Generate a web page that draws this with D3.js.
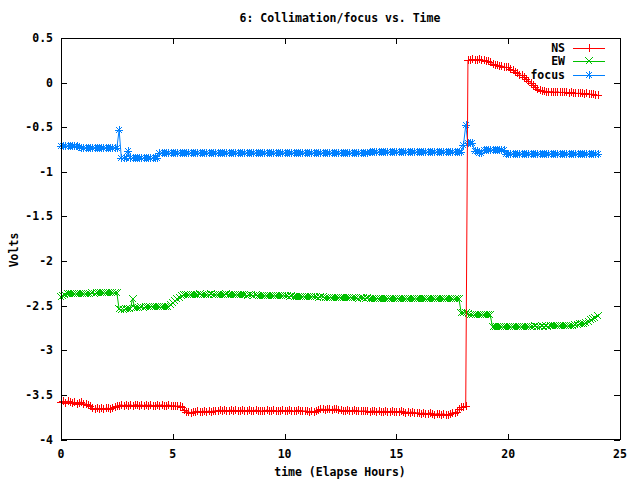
<!DOCTYPE html>
<html>
<head>
<meta charset="utf-8">
<script src="https://cdn.jsdelivr.net/npm/d3@7"></script>
<style>
body { margin: 0; background: #fff; }
svg text { font-family: "DejaVu Sans Mono", monospace; font-size: 11.5px; font-weight: bold; fill: #000; }
</style>
</head>
<body>
<svg id="chart" width="640" height="480"></svg>
<script>
// samples every 0.1 h, starting at 0 h (one row = one hour)
const t0 = 0;
const dt = 0.1;

const ns = [
  -3.58, -3.57, -3.59, -3.57, -3.58, -3.59, -3.58, -3.60, -3.59, -3.58,
  -3.60, -3.60, -3.61, -3.63, -3.65, -3.66, -3.65, -3.66, -3.65, -3.66,
  -3.65, -3.65, -3.66, -3.65, -3.64, -3.62, -3.62, -3.61, -3.62, -3.61,
  -3.62, -3.61, -3.62, -3.61, -3.61, -3.62, -3.61, -3.62, -3.61, -3.62,
  -3.61, -3.62, -3.62, -3.61, -3.62, -3.61, -3.62, -3.62, -3.61, -3.62,
  -3.62, -3.62, -3.63, -3.62, -3.64, -3.67, -3.69, -3.69, -3.70, -3.69,
  -3.69, -3.68, -3.69, -3.69, -3.68, -3.69, -3.68, -3.69, -3.68, -3.68,
  -3.68, -3.67, -3.68, -3.67, -3.68, -3.68, -3.67, -3.68, -3.67, -3.68,
  -3.68, -3.67, -3.68, -3.68, -3.67, -3.68, -3.68, -3.67, -3.68, -3.68,
  -3.68, -3.68, -3.67, -3.68, -3.68, -3.67, -3.68, -3.68, -3.68, -3.67,
  -3.68, -3.68, -3.67, -3.68, -3.68, -3.68, -3.67, -3.68, -3.68, -3.68,
  -3.68, -3.69, -3.68, -3.69, -3.68, -3.67, -3.66, -3.66, -3.67, -3.66,
  -3.66, -3.67, -3.66, -3.66, -3.67, -3.67, -3.68, -3.68, -3.67, -3.68,
  -3.68, -3.67, -3.68, -3.68, -3.68, -3.68, -3.68, -3.68, -3.69, -3.68,
  -3.68, -3.69, -3.68, -3.69, -3.69, -3.68, -3.69, -3.69, -3.68, -3.69,
  -3.69, -3.69, -3.68, -3.69, -3.70, -3.69, -3.70, -3.69, -3.70, -3.70,
  -3.70, -3.71, -3.70, -3.71, -3.71, -3.70, -3.71, -3.72, -3.71, -3.71,
  -3.72, -3.71, -3.72, -3.72, -3.71, -3.70, -3.70, -3.69, -3.66, -3.64,
  -3.64, -3.63, 0.25, 0.25, 0.26, 0.25, 0.25, 0.26, 0.25, 0.25,
  0.24, 0.24, 0.23, 0.21, 0.20, 0.20, 0.19, 0.19, 0.18, 0.17,
  0.17, 0.15, 0.14, 0.12, 0.11, 0.09, 0.08, 0.06, 0.04, 0.02,
  0.00, -0.03, -0.05, -0.07, -0.08, -0.09, -0.09, -0.10, -0.10, -0.10,
  -0.10, -0.11, -0.10, -0.11, -0.11, -0.11, -0.11, -0.12, -0.11, -0.12,
  -0.12, -0.12, -0.12, -0.12, -0.13, -0.12, -0.13, -0.13, -0.13, -0.14,
  -0.14
];

const ew = [
  -2.40, -2.39, -2.38, -2.37, -2.37, -2.37, -2.37, -2.37, -2.37, -2.37,
  -2.37, -2.37, -2.37, -2.37, -2.36, -2.37, -2.36, -2.36, -2.36, -2.36,
  -2.36, -2.36, -2.36, -2.36, -2.36, -2.36, -2.54, -2.55, -2.55, -2.54,
  -2.54, -2.54, -2.42, -2.53, -2.53, -2.53, -2.52, -2.53, -2.52, -2.51,
  -2.51, -2.51, -2.52, -2.52, -2.52, -2.52, -2.52, -2.52, -2.51, -2.49,
  -2.47, -2.45, -2.43, -2.41, -2.39, -2.38, -2.38, -2.38, -2.38, -2.38,
  -2.38, -2.38, -2.37, -2.38, -2.38, -2.38, -2.38, -2.37, -2.38, -2.38,
  -2.38, -2.38, -2.38, -2.38, -2.37, -2.38, -2.38, -2.38, -2.38, -2.38,
  -2.38, -2.38, -2.38, -2.39, -2.38, -2.38, -2.39, -2.38, -2.39, -2.39,
  -2.39, -2.39, -2.39, -2.39, -2.39, -2.39, -2.39, -2.39, -2.39, -2.39,
  -2.39, -2.39, -2.40, -2.39, -2.40, -2.40, -2.40, -2.40, -2.40, -2.40,
  -2.40, -2.40, -2.40, -2.40, -2.40, -2.41, -2.40, -2.40, -2.41, -2.41,
  -2.41, -2.41, -2.41, -2.41, -2.41, -2.41, -2.41, -2.41, -2.41, -2.41,
  -2.41, -2.41, -2.41, -2.42, -2.41, -2.41, -2.42, -2.41, -2.42, -2.42,
  -2.42, -2.42, -2.42, -2.42, -2.42, -2.42, -2.42, -2.42, -2.42, -2.42,
  -2.42, -2.42, -2.42, -2.42, -2.42, -2.43, -2.42, -2.42, -2.43, -2.42,
  -2.42, -2.43, -2.42, -2.43, -2.43, -2.42, -2.43, -2.43, -2.43, -2.43,
  -2.43, -2.43, -2.43, -2.43, -2.43, -2.43, -2.43, -2.43, -2.43, -2.58,
  -2.58, -2.58, -2.59, -2.61, -2.61, -2.61, -2.60, -2.61, -2.61, -2.60,
  -2.61, -2.60, -2.61, -2.74, -2.74, -2.74, -2.74, -2.74, -2.74, -2.74,
  -2.74, -2.74, -2.74, -2.74, -2.74, -2.74, -2.74, -2.74, -2.74, -2.74,
  -2.74, -2.74, -2.73, -2.74, -2.74, -2.73, -2.74, -2.73, -2.74, -2.73,
  -2.73, -2.73, -2.73, -2.73, -2.73, -2.73, -2.73, -2.73, -2.73, -2.73,
  -2.72, -2.72, -2.71, -2.70, -2.70, -2.69, -2.68, -2.66, -2.65, -2.64,
  -2.62
];

const focus = [
  -0.71, -0.71, -0.71, -0.71, -0.71, -0.71, -0.71, -0.71, -0.72, -0.73,
  -0.73, -0.73, -0.73, -0.73, -0.73, -0.73, -0.73, -0.73, -0.73, -0.73,
  -0.73, -0.73, -0.73, -0.73, -0.73, -0.73, -0.53, -0.85, -0.85, -0.85,
  -0.77, -0.85, -0.85, -0.85, -0.85, -0.85, -0.85, -0.85, -0.85, -0.85,
  -0.85, -0.85, -0.85, -0.85, -0.79, -0.79, -0.79, -0.79, -0.79, -0.79,
  -0.79, -0.79, -0.79, -0.79, -0.79, -0.79, -0.79, -0.79, -0.79, -0.79,
  -0.79, -0.79, -0.79, -0.79, -0.79, -0.79, -0.79, -0.79, -0.79, -0.79,
  -0.79, -0.79, -0.79, -0.79, -0.79, -0.79, -0.79, -0.79, -0.79, -0.79,
  -0.79, -0.79, -0.79, -0.79, -0.79, -0.79, -0.79, -0.79, -0.79, -0.79,
  -0.79, -0.79, -0.79, -0.79, -0.79, -0.79, -0.79, -0.79, -0.79, -0.79,
  -0.79, -0.79, -0.79, -0.79, -0.79, -0.79, -0.79, -0.79, -0.79, -0.79,
  -0.79, -0.79, -0.79, -0.79, -0.79, -0.79, -0.79, -0.79, -0.79, -0.79,
  -0.79, -0.79, -0.79, -0.79, -0.79, -0.79, -0.79, -0.79, -0.79, -0.79,
  -0.79, -0.79, -0.79, -0.79, -0.79, -0.79, -0.79, -0.79, -0.78, -0.78,
  -0.78, -0.78, -0.78, -0.78, -0.78, -0.78, -0.78, -0.78, -0.78, -0.78,
  -0.78, -0.78, -0.78, -0.78, -0.78, -0.78, -0.78, -0.78, -0.78, -0.78,
  -0.78, -0.78, -0.78, -0.78, -0.78, -0.78, -0.78, -0.78, -0.78, -0.78,
  -0.78, -0.78, -0.78, -0.78, -0.78, -0.78, -0.78, -0.78, -0.78, -0.78,
  -0.70, -0.48, -0.68, -0.68, -0.68, -0.77, -0.77, -0.79, -0.79, -0.76,
  -0.75, -0.75, -0.75, -0.76, -0.75, -0.75, -0.75, -0.75, -0.75, -0.80,
  -0.80, -0.80, -0.80, -0.80, -0.80, -0.80, -0.80, -0.80, -0.80, -0.80,
  -0.80, -0.80, -0.80, -0.80, -0.80, -0.80, -0.80, -0.80, -0.80, -0.80,
  -0.80, -0.80, -0.80, -0.80, -0.80, -0.80, -0.80, -0.80, -0.80, -0.80,
  -0.80, -0.80, -0.80, -0.80, -0.80, -0.80, -0.80, -0.80, -0.80, -0.80,
  -0.80
];

const xTicks = [0, 5, 10, 15, 20, 25];
const yTicks = [0.5, 0, -0.5, -1, -1.5, -2, -2.5, -3, -3.5, -4];

const series = [
  { name: "NS", values: ns, color: "#ff0000", marker: "plus" },
  { name: "EW", values: ew, color: "#00c000", marker: "cross" },
  { name: "focus", values: focus, color: "#0080ff", marker: "star" }
];

const markers = {
  plus: "M-4,0h8M0,-4v8",
  cross: "M-3.5,-3.5l7,7M-3.5,3.5l7,-7",
  star: "M-4,0h8M0,-4v8M-3,-3l6,6M-3,3l6,-6"
};

const svg = d3.select("#chart");
const plot = { left: 61, right: 620, top: 38, bottom: 439.5 };

const x = d3.scaleLinear().domain([0, 25]).range([plot.left, plot.right]);
const y = d3.scaleLinear().domain([-4, 0.5]).range([plot.bottom, plot.top]);

// ticks, mirrored on all four sides, pointing inwards
const tickLen = 6;
const axes = svg.append("g").attr("stroke", "#000").attr("shape-rendering", "crispEdges");
axes.append("g")
  .attr("transform", `translate(0,${plot.bottom})`)
  .call(d3.axisBottom(x).tickValues(xTicks).tickSize(-tickLen).tickFormat(""))
  .call(g => g.select(".domain").remove());
axes.append("g")
  .attr("transform", `translate(0,${plot.top})`)
  .call(d3.axisTop(x).tickValues(xTicks).tickSize(-tickLen).tickFormat(""))
  .call(g => g.select(".domain").remove());
axes.append("g")
  .attr("transform", `translate(${plot.left},0)`)
  .call(d3.axisLeft(y).tickValues(yTicks).tickSize(-tickLen).tickFormat(""))
  .call(g => g.select(".domain").remove());
axes.append("g")
  .attr("transform", `translate(${plot.right},0)`)
  .call(d3.axisRight(y).tickValues(yTicks).tickSize(-tickLen).tickFormat(""))
  .call(g => g.select(".domain").remove());

svg.selectAll(".xlab").data(xTicks).enter().append("text")
  .attr("x", d => x(d))
  .attr("y", plot.bottom + 18)
  .attr("text-anchor", "middle")
  .text(d => d);

svg.selectAll(".ylab").data(yTicks).enter().append("text")
  .attr("x", plot.left - 8)
  .attr("y", d => y(d) + 4)
  .attr("text-anchor", "end")
  .text(d => d);

// series: NS drawn last so it sits on top like the original
const line = d3.line()
  .x((d, i) => x(t0 + i * dt))
  .y(d => y(d));

const plotArea = svg.append("g");
series.slice().reverse().forEach(s => {
  const g = plotArea.append("g").attr("stroke", s.color).attr("fill", "none");
  g.append("path")
    .attr("d", line(s.values))
    .attr("stroke-width", 1);
  g.selectAll("path.pt").data(s.values).enter().append("path")
    .attr("class", "pt")
    .attr("transform", (d, i) => `translate(${Math.round(x(t0 + i * dt))},${Math.round(y(d))})`)
    .attr("d", markers[s.marker])
    .attr("stroke-width", 1)
    .attr("shape-rendering", "crispEdges");
});

// frame
svg.append("rect")
  .attr("x", plot.left)
  .attr("y", plot.top)
  .attr("width", plot.right - plot.left)
  .attr("height", plot.bottom - plot.top)
  .attr("fill", "none")
  .attr("stroke", "#000")
  .attr("shape-rendering", "crispEdges");

// legend, top right
const legend = svg.append("g");
series.forEach((s, i) => {
  const ly = 48 + i * 13.3;
  legend.append("text")
    .attr("x", 565)
    .attr("y", ly + 4)
    .attr("text-anchor", "end")
    .text(s.name);
  legend.append("line")
    .attr("x1", 573).attr("x2", 605)
    .attr("y1", Math.round(ly)).attr("y2", Math.round(ly))
    .attr("stroke", s.color)
    .attr("shape-rendering", "crispEdges");
  legend.append("path")
    .attr("transform", `translate(589,${Math.round(ly)})`)
    .attr("d", markers[s.marker])
    .attr("stroke", s.color)
    .attr("fill", "none")
    .attr("shape-rendering", "crispEdges");
});

// titles
svg.append("text")
  .attr("x", 340)
  .attr("y", 22)
  .attr("text-anchor", "middle")
  .text("6: Collimation/focus vs. Time");

svg.append("text")
  .attr("x", 340)
  .attr("y", 476)
  .attr("text-anchor", "middle")
  .text("time (Elapse Hours)");

svg.append("text")
  .attr("transform", "translate(18,250) rotate(-90)")
  .attr("text-anchor", "middle")
  .text("Volts");
</script>
</body>
</html>
